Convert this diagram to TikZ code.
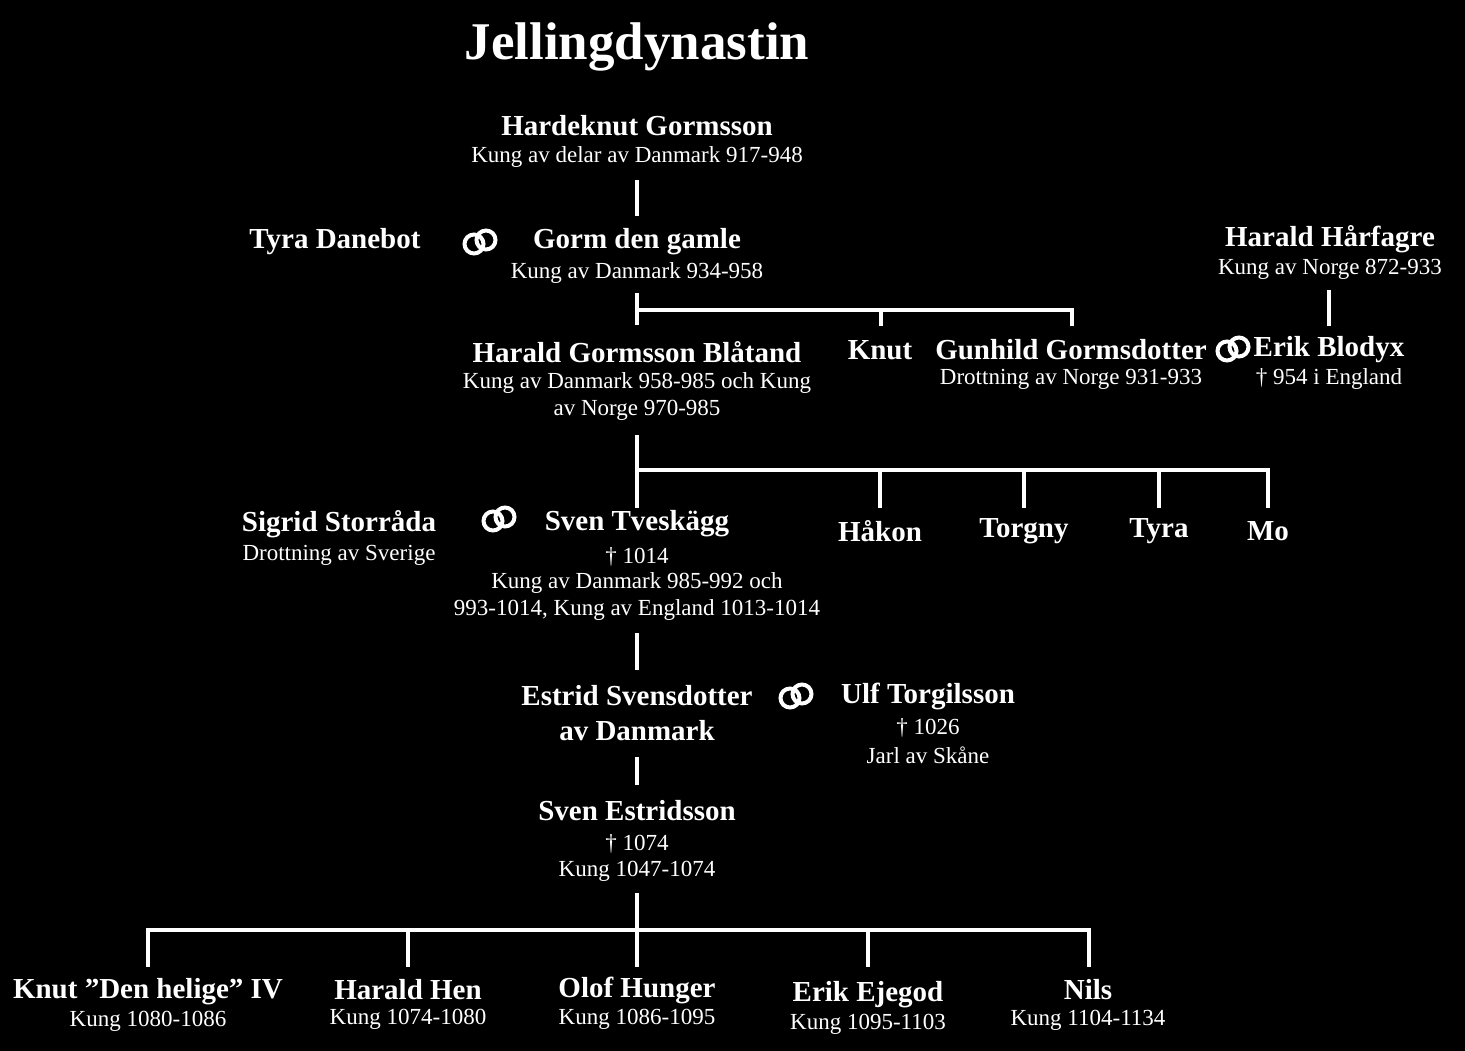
\documentclass[tikz,border=0pt]{standalone}
\usepackage{fontspec}
\setmainfont{Liberation Serif}
\begin{document}
\begin{tikzpicture}[x=1pt,y=-1pt,
  nm/.style={text=white,font=\bfseries\fontsize{29}{32}\selectfont,inner sep=0pt,anchor=center},
  sb/.style={text=white,font=\fontsize{23}{25}\selectfont,inner sep=0pt,anchor=center},
  ln/.style={draw=white,line width=4pt},
  rings/.pic={\draw[white,line width=4pt] (-6,2) circle (9.5) (6,-2) circle (9.5);}]
\fill[black] (0,0) rectangle (1465,1051);
\useasboundingbox (0,0) rectangle (1465,1051);
\node[text=white,font=\bfseries\fontsize{53}{56}\selectfont] (title) at (637,47) {Jellingdynastin};
\node[nm] (hk) at (637,126) {Hardeknut Gormsson};
\node[sb] (hks) at (637,157) {Kung av delar av Danmark 917-948};
\node[nm] (tyra) at (335,242) {Tyra Danebot};
\pic at (480,242) {rings};
\node[nm] (gorm) at (637,242) {Gorm den gamle};
\node[sb] (gorms) at (637,273) {Kung av Danmark 934-958};
\node[nm] (hh) at (1330,239) {Harald Hårfagre};
\node[sb] (hhs) at (1330,269) {Kung av Norge 872-933};
\node[nm] (hb) at (637,352) {Harald Gormsson Blåtand};
\node[sb] (hbs1) at (637,383) {Kung av Danmark 958-985 och Kung};
\node[sb] (hbs2) at (637,410) {av Norge 970-985};
\node[nm] (knut) at (880,350) {Knut};
\node[nm] (gun) at (1071,350) {Gunhild Gormsdotter};
\node[sb] (guns) at (1071,379) {Drottning av Norge 931-933};
\pic at (1233,349) {rings};
\node[nm] (erik) at (1329,350) {Erik Blodyx};
\node[sb] (eriks) at (1329,379) {† 954 i England};
\node[nm] (sig) at (339,524) {Sigrid Storråda};
\node[sb] (sigs) at (339,555) {Drottning av Sverige};
\pic at (499,519) {rings};
\node[nm] (st) at (637,524) {Sven Tveskägg};
\node[sb] (st1) at (637,557) {† 1014};
\node[sb] (st2) at (637,583) {Kung av Danmark 985-992 och};
\node[sb] (st3) at (637,610) {993-1014, Kung av England 1013-1014};
\node[nm] (hak) at (880,531) {Håkon};
\node[nm] (tor) at (1024,531) {Torgny};
\node[nm] (tyr) at (1159,531) {Tyra};
\node[nm] (mo) at (1268,531) {Mo};
\node[nm] (es1) at (637,696) {Estrid Svensdotter};
\node[nm] (es2) at (637,731) {av Danmark};
\pic at (796,696) {rings};
\node[nm] (ulf) at (928,696) {Ulf Torgilsson};
\node[sb] (ulf1) at (928,728) {† 1026};
\node[sb] (ulf2) at (928,755) {Jarl av Skåne};
\node[nm] (se) at (637,811) {Sven Estridsson};
\node[sb] (se1) at (637,844) {† 1074};
\node[sb] (se2) at (637,871) {Kung 1047-1074};
\node[nm] (b1) at (148,992) {Knut ”Den helige” IV};
\node[sb] (b1s) at (148,1021) {Kung 1080-1086};
\node[nm] (b2) at (408,990) {Harald Hen};
\node[sb] (b2s) at (408,1019) {Kung 1074-1080};
\node[nm] (b3) at (637,990) {Olof Hunger};
\node[sb] (b3s) at (637,1019) {Kung 1086-1095};
\node[nm] (b4) at (868,995) {Erik Ejegod};
\node[sb] (b4s) at (868,1024) {Kung 1095-1103};
\node[nm] (b5) at (1088,990) {Nils};
\node[sb] (b5s) at (1088,1020) {Kung 1104-1134};
% connectors
\draw[ln] (637,180) -- (637,216);
\draw[ln] (637,293) -- (637,325);
\draw[ln] (637,310) -- (1072,310) -- (1072,326);
\draw[ln] (881,310) -- (881,326);
\draw[ln] (1329,290) -- (1329,326);
\draw[ln] (637,435) -- (637,508);
\draw[ln] (637,470) -- (1268,470) -- (1268,508);
\draw[ln] (880,470) -- (880,508);
\draw[ln] (1024,470) -- (1024,508);
\draw[ln] (1159,470) -- (1159,508);
\draw[ln] (637,633) -- (637,670);
\draw[ln] (637,757) -- (637,785);
\draw[ln] (637,893) -- (637,967);
\draw[ln] (148,967) -- (148,930) -- (1089,930) -- (1089,967);
\draw[ln] (408,930) -- (408,967);
\draw[ln] (868,930) -- (868,967);
\end{tikzpicture}
\end{document}
